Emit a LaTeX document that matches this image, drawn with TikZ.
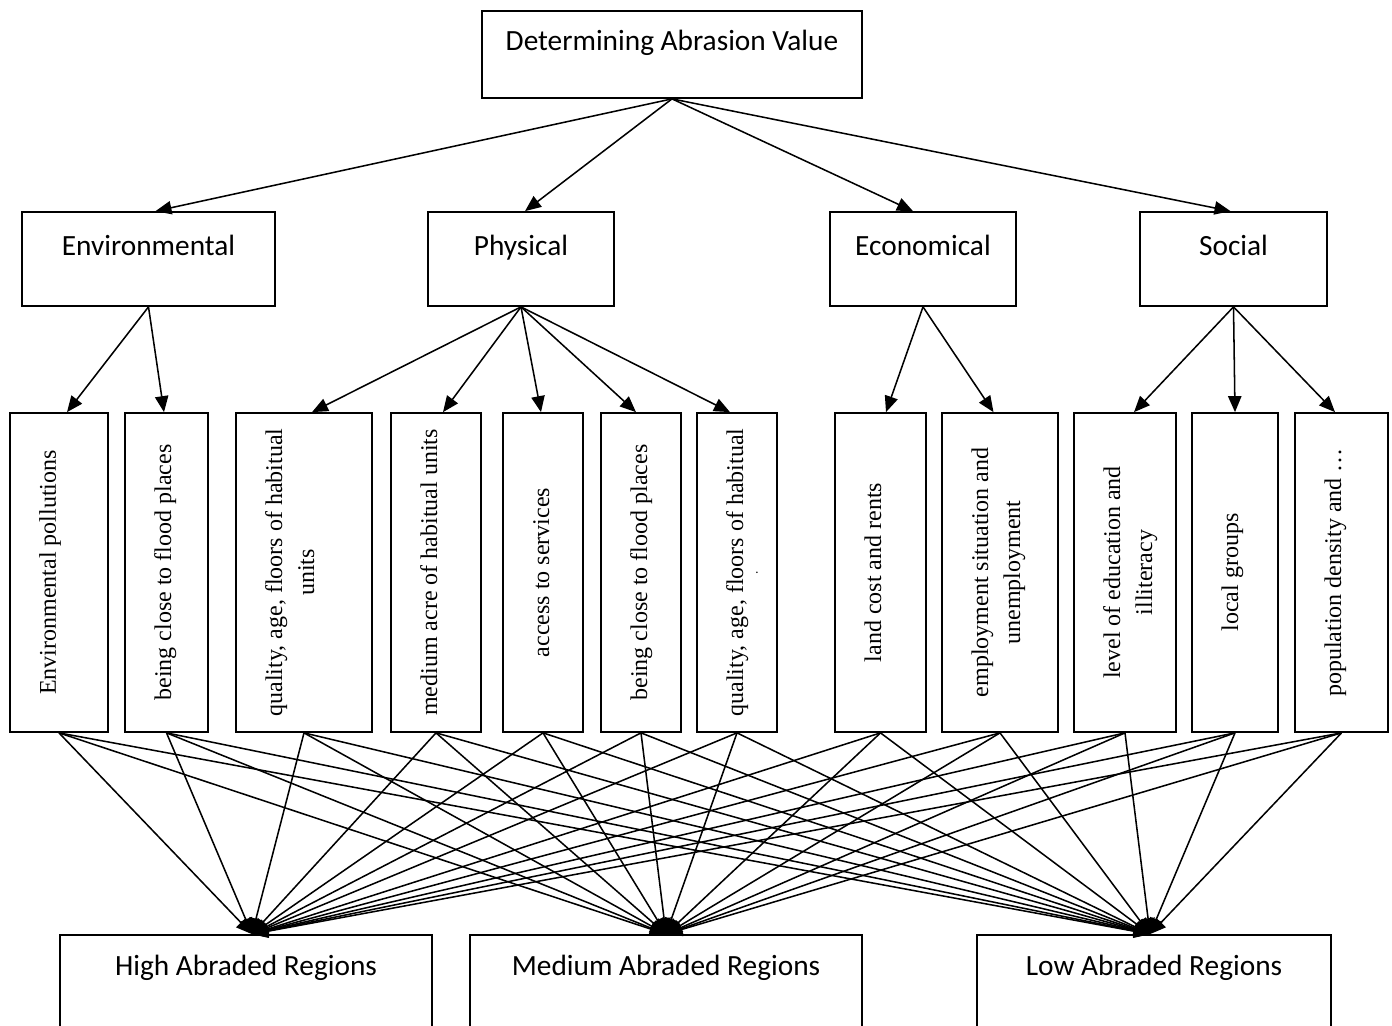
\documentclass[tikz,border=0pt]{standalone}
\usepackage{fontspec}
\setmainfont{Liberation Serif}
\newfontfamily\calib{Carlito}
\usetikzlibrary{arrows.meta,calc}
\newcommand\vtext[2]{\rotatebox{90}{\parbox[c][#1][t]{239.25pt}{\centering\fontsize{18}{24}\selectfont\rule{0pt}{34.5pt}#2}}}
\tikzset{
  box/.style={draw, line width=1.3pt, inner sep=0pt, rectangle},
  hbox/.style={box, minimum width=#1, font=\calib\fontsize{22}{26}\selectfont},
  lvone/.style={hbox=#1, text height=32.25pt, text depth=38.25pt},
  lvbot/.style={hbox=#1, text height=30pt, text depth=48.75pt},
  conn/.style={line width=1.15pt, -{Triangle[length=12pt,width=10pt]}}
}
\begin{document}
\begin{tikzpicture}[x=0.75pt,y=-0.75pt]
\useasboundingbox (0,0) rectangle (1392,1025);
% top
\node[hbox=285pt, text height=29.25pt, text depth=36pt] (top) at (672,54.5) {Determining Abrasion Value};
% level 1
\node[lvone=189.75pt] (env) at (148.5,259) {Environmental};
\node[lvone=139.5pt] (phys) at (521,259) {Physical};
\node[lvone=139.5pt] (econ) at (923,259) {Economical};
\node[lvone=140.25pt] (soc) at (1233.5,259) {Social};
% level 2
\node[box] (b1) at (59,572.5) {\vtext{73.5pt}{Environmental pollutions}};
\node[box] (b2) at (166.5,572.5) {\vtext{62.25pt}{being close to flood places}};
\node[box] (b3) at (304,572.5) {\vtext{102pt}{quality, age, floors of habitual\\units}};
\node[box] (b4) at (436,572.5) {\vtext{67.5pt}{medium acre of habitual units}};
\node[box] (b5) at (543,572.5) {\vtext{60pt}{access to services}};
\node[box] (b6) at (641,572.5) {\vtext{60pt}{being close to flood places}};
\node[box] (b7) at (737,572.5) {\vtext{60pt}{quality, age, floors of habitual\\[-13pt]{\fontsize{10}{12}\selectfont .}}};
\node[box] (b8) at (880.5,572.5) {\vtext{68.25pt}{land cost and rents}};
\node[box] (b9) at (1000,572.5) {\vtext{87pt}{employment situation and\\unemployment}};
\node[box] (b10) at (1125,572.5) {\vtext{76.5pt}{level of education and\\illiteracy}};
\node[box] (b11) at (1235,572.5) {\vtext{64.5pt}{local groups}};
\node[box] (b12) at (1341.5,572.5) {\vtext{69.75pt}{population density and \ldots}};
% bottom
\node[lvbot=279pt] (high) at (246,987.5) {High Abraded Regions};
\node[lvbot=294pt] (med) at (666,987.5) {Medium Abraded Regions};
\node[lvbot=265.5pt] (low) at (1154,987.5) {Low Abraded Regions};
% top connectors
\draw[conn] (top.south) -- ($(env.north)+(7,0)$);
\draw[conn] (top.south) -- ($(phys.north)+(4,0)$);
\draw[conn] (top.south) -- ($(econ.north)+(-10,0)$);
\draw[conn] (top.south) -- ($(soc.north)+(-3,0)$);
% level 1 -> level 2
\draw[conn] (env.south) -- ($(b1.north)+(8,0)$);
\draw[conn] (env.south) -- ($(b2.north)+(-2.5,0)$);
\draw[conn] (phys.south) -- ($(b3.north)+(8,0)$);
\draw[conn] (phys.south) -- ($(b4.north)+(7,0)$);
\draw[conn] (phys.south) -- ($(b5.north)+(-2,0)$);
\draw[conn] (phys.south) -- ($(b6.north)+(-5,0)$);
\draw[conn] (phys.south) -- ($(b7.north)+(-7,0)$);
\draw[conn] (econ.south) -- ($(b8.north)+(5.5,0)$);
\draw[conn] (econ.south) -- ($(b9.north)+(-6.5,0)$);
\draw[conn] (soc.south) -- ($(b10.north)+(9,0)$);
\draw[conn] (soc.south) -- (b11.north);
\draw[conn] (soc.south) -- ($(b12.north)+(-6.5,0)$);
% level 2 -> bottom
\foreach \i in {1,...,12}{
  \draw[conn] (b\i.south) -- ($(high.north)+(6,0)$);
  \draw[conn] (b\i.south) -- (med.north);
  \draw[conn] (b\i.south) -- ($(low.north)+(-4,0)$);
}
\end{tikzpicture}
\end{document}
